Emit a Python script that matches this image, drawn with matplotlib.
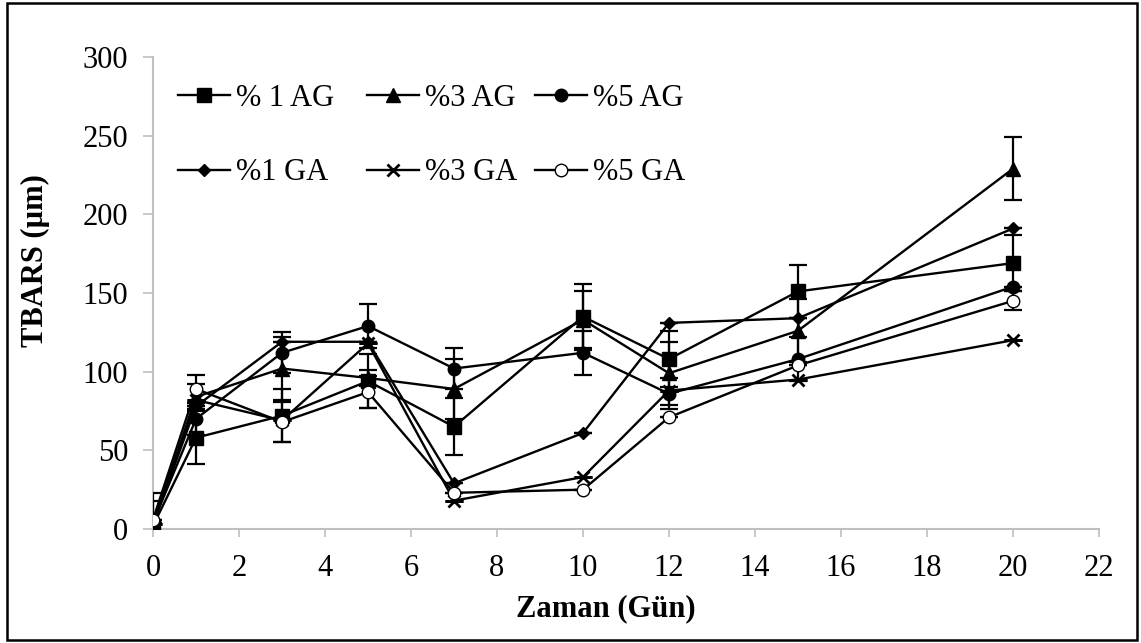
import matplotlib
matplotlib.use("Agg")
import matplotlib.pyplot as plt
from matplotlib.patches import Rectangle

plt.rcParams['font.family'] = ['Liberation Serif', 'DejaVu Serif']

# Sampling days
days = [0, 1, 3, 5, 7, 10, 12, 15, 20]

# TBARS (µm) per treatment
ag1 = [2, 58, 72, 94, 65, 135, 108, 151, 169]
ag3 = [3, 84, 102, 96, 89, 133, 99, 126, 229]
ag5 = [4, 70, 112, 129, 102, 112, 86, 108, 154]
ga1 = [3, 78, 119, 119, 29, 61, 131, 134, 191]
ga3 = [3, 82, 69, 118, 18, 33, 88, 95, 120]
ga5 = [6, 89, 68, 87, 23, 25, 71, 104, 145]

# Standard deviations
ag1_err = [21, 17, 17, 17, 18, 21, 18, 17, 18]
ag3_err = [15, 8, 20, 5, 19, 18, 20, 20, 20]
ag5_err = [0, 10, 13, 14, 13, 14, 10, 14, 0]
ga1_err = [0, 0, 0, 0, 0, 0, 0, 0, 0]
ga3_err = [0, 0, 0, 0, 0, 0, 0, 0, 0]
ga5_err = [0, 9, 13, 10, 0, 0, 0, 0, 6]

labels = ['% 1 AG', '%3 AG', '%5 AG', '%1 GA', '%3 GA', '%5 GA']
x_ticks = [0, 2, 4, 6, 8, 10, 12, 14, 16, 18, 20, 22]
y_ticks = [0, 50, 100, 150, 200, 250, 300]

W, H = 1141, 643
fig = plt.figure(figsize=(W / 100, H / 100), dpi=100)
ax = fig.add_axes([153 / W, 1 - 529 / H, (1099 - 153) / W, (529 - 57) / H])

series = [
    (ag1, ag1_err, dict(marker='s', ms=9.5, mfc='black')),
    (ag3, ag3_err, dict(marker='^', ms=9.5, mfc='black')),
    (ag5, ag5_err, dict(marker='o', ms=9.0, mfc='black')),
    (ga1, ga1_err, dict(marker='D', ms=6.5, mfc='black')),
    (ga3, ga3_err, dict(marker='x', ms=9.0, mew=2.0)),
    (ga5, ga5_err, dict(marker='o', ms=9.0, mfc='white')),
]

handles = []
for i, (vals, err, style) in enumerate(series):
    cont = ax.errorbar(days, vals, yerr=err, color='black', lw=1.7,
                       mec='black', elinewidth=1.6, capsize=6.5, capthick=1.6,
                       zorder=3 + i, label=labels[i], **style)
    handles.append(cont[0])

ax.set_xlim(0, 22)
ax.set_ylim(0, 300)
ax.set_xticks(x_ticks)
ax.set_yticks(y_ticks)

for side in ['top', 'right']:
    ax.spines[side].set_visible(False)
for side in ['left', 'bottom']:
    ax.spines[side].set_color('#BFBFBF')
    ax.spines[side].set_linewidth(1.5)

ax.tick_params(axis='y', direction='out', length=7, width=1.2, color='#BFBFBF',
               labelsize=22, pad=11)
ax.tick_params(axis='x', direction='out', length=6, width=1.2, color='#BFBFBF',
               labelsize=22, pad=12)

ax.set_xlabel('Zaman (Gün)', fontsize=22, fontweight='bold')
ax.xaxis.set_label_coords((606 - 153) / 946, (529 - 594) / 472)
ax.set_ylabel('TBARS (µm)', fontsize=22, fontweight='bold')
ax.yaxis.set_label_coords((50 - 153) / 946, (529 - 261) / 472)

# Legend: three columns (AG above GA), each placed at its own left edge
col_left = [178, 367, 535]
for c in range(3):
    leg = ax.legend([handles[c], handles[c + 3]], [labels[c], labels[c + 3]],
                    frameon=False, fontsize=22, loc='upper left',
                    bbox_to_anchor=(col_left[c] / W, 1 - 84 / H),
                    bbox_transform=fig.transFigure, borderpad=0,
                    borderaxespad=0, handlelength=1.7, handletextpad=0.2,
                    labelspacing=1.48)
    if c < 2:
        ax.add_artist(leg)

fig.patches.append(Rectangle((7 / W, 3 / H), (1137 - 7) / W, (640 - 3) / H,
                             transform=fig.transFigure, fill=False,
                             edgecolor='black', linewidth=1.8))

fig.savefig('out.png', dpi=100)
